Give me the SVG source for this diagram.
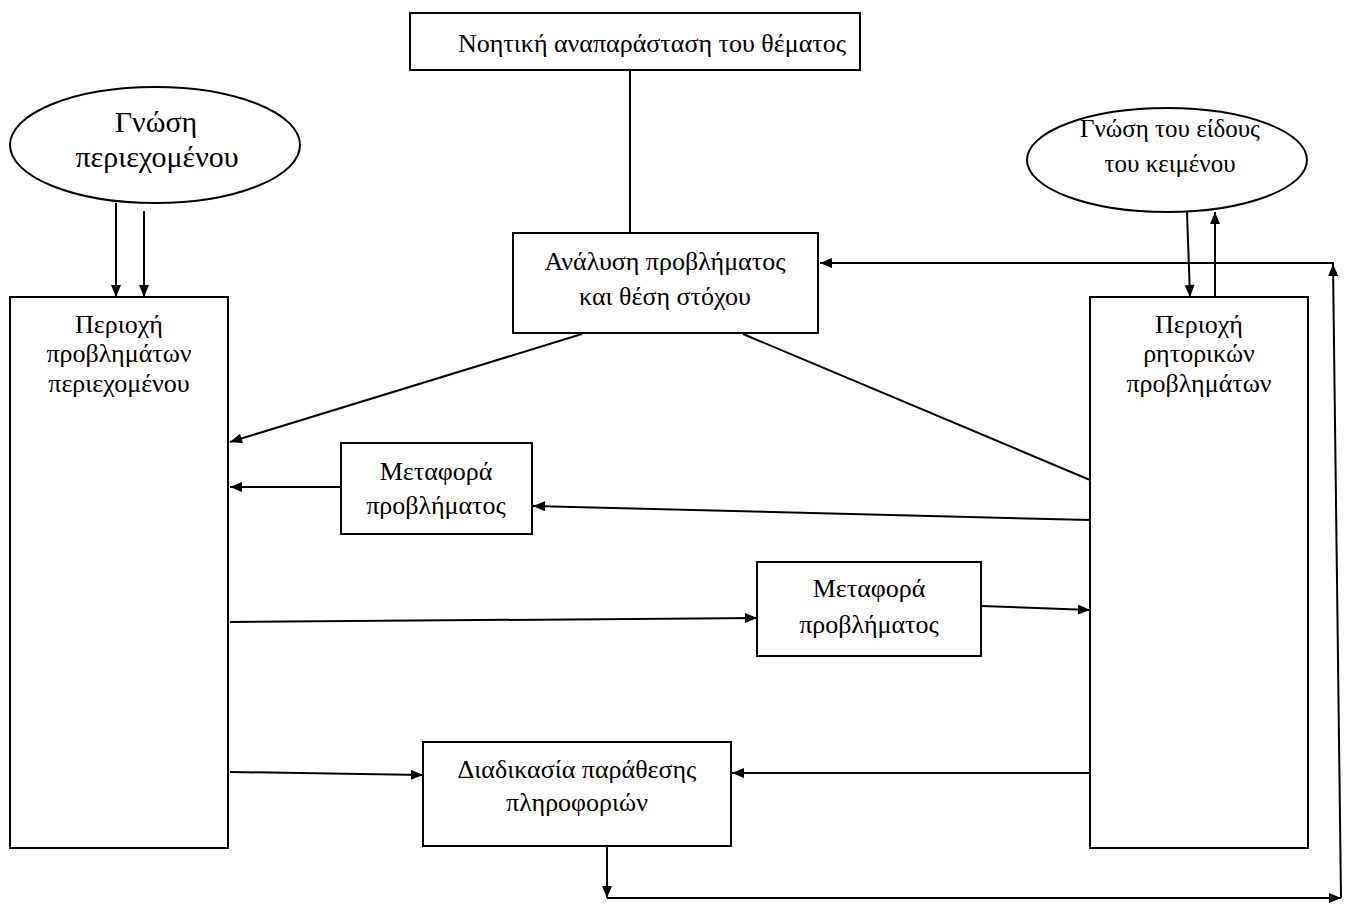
<svg xmlns="http://www.w3.org/2000/svg" width="1347" height="904" viewBox="0 0 1347 904">
<style>
.box{fill:#fff;stroke:#000;stroke-width:2}
.ln{fill:none;stroke:#000;stroke-width:2}
.ar{fill:none;stroke:#000;stroke-width:2;marker-end:url(#ah)}
text{font-family:"Liberation Serif","Times New Roman","DejaVu Serif",serif;font-size:26px;fill:#000;text-anchor:middle}
.big{font-size:30px}
.el{font-size:25px}
</style>
<defs>
<marker id="ah" viewBox="0 0 12 10" refX="12" refY="5" markerWidth="13" markerHeight="10" orient="auto" markerUnits="userSpaceOnUse"><path d="M0,0 L12,5 L0,10 z" fill="#000"/></marker>
</defs>
<rect width="1347" height="904" fill="#fff"/>
<g id="connectors">
<line class="ln" x1="630" y1="70" x2="630" y2="233"/>
<line class="ar" x1="116" y1="203" x2="116" y2="297"/>
<line class="ar" x1="144" y1="211" x2="144" y2="297"/>
<line class="ar" x1="1187" y1="212" x2="1190" y2="297"/>
<line class="ar" x1="1215" y1="297" x2="1215" y2="212"/>
<line class="ar" x1="582" y1="334" x2="230" y2="442"/>
<line class="ln" x1="743" y1="334" x2="1090" y2="480"/>
<line class="ar" x1="341" y1="487" x2="230" y2="487"/>
<line class="ar" x1="1090" y1="520" x2="533" y2="506"/>
<line class="ar" x1="230" y1="622" x2="757" y2="618"/>
<line class="ar" x1="981" y1="606" x2="1090" y2="610"/>
<line class="ar" x1="230" y1="772" x2="423" y2="775"/>
<line class="ar" x1="1090" y1="773" x2="732" y2="773"/>
<line class="ar" x1="607" y1="847" x2="607" y2="898"/>
<line class="ar" x1="607" y1="898" x2="1341" y2="898"/>
<line class="ar" x1="1341" y1="898" x2="1333" y2="264"/>
<line class="ar" x1="1334" y1="263" x2="820" y2="263"/>
</g>
<g id="top">
<rect class="box" x="410" y="13" width="450" height="57"/>
<text x="652" y="52">Νοητική αναπαράσταση του θέματος</text>
</g>
<g id="knowContent">
<ellipse class="box" cx="155" cy="145" rx="145" ry="58"/>
<text class="big" x="156" y="132">Γνώση</text>
<text class="big" x="157" y="167">περιεχομένου</text>
</g>
<g id="knowGenre">
<ellipse class="box" cx="1167" cy="160" rx="140" ry="52"/>
<text class="el" x="1170" y="137">Γνώση του είδους</text>
<text class="el" x="1170" y="172">του κειμένου</text>
</g>
<g id="leftArea">
<rect class="box" x="10" y="297" width="218" height="551"/>
<text x="119" y="333">Περιοχή</text>
<text x="119" y="362">προβλημάτων</text>
<text x="119" y="392">περιεχομένου</text>
</g>
<g id="rightArea">
<rect class="box" x="1090" y="297" width="218" height="551"/>
<text x="1199" y="333">Περιοχή</text>
<text x="1199" y="362">ρητορικών</text>
<text x="1199" y="392">προβλημάτων</text>
</g>
<g id="analysis">
<rect class="box" x="513" y="233" width="305" height="100"/>
<text x="665" y="270">Ανάλυση προβλήματος</text>
<text x="665" y="305">και θέση στόχου</text>
</g>
<g id="transfer1">
<rect class="box" x="341" y="443" width="191" height="91"/>
<text x="436" y="480">Μεταφορά</text>
<text x="436" y="514">προβλήματος</text>
</g>
<g id="transfer2">
<rect class="box" x="757" y="562" width="224" height="94"/>
<text x="869" y="597">Μεταφορά</text>
<text x="869" y="633">προβλήματος</text>
</g>
<g id="juxtapose">
<rect class="box" x="423" y="742" width="308" height="104"/>
<text x="577" y="778">Διαδικασία παράθεσης</text>
<text x="577" y="811">πληροφοριών</text>
</g>
</svg>
